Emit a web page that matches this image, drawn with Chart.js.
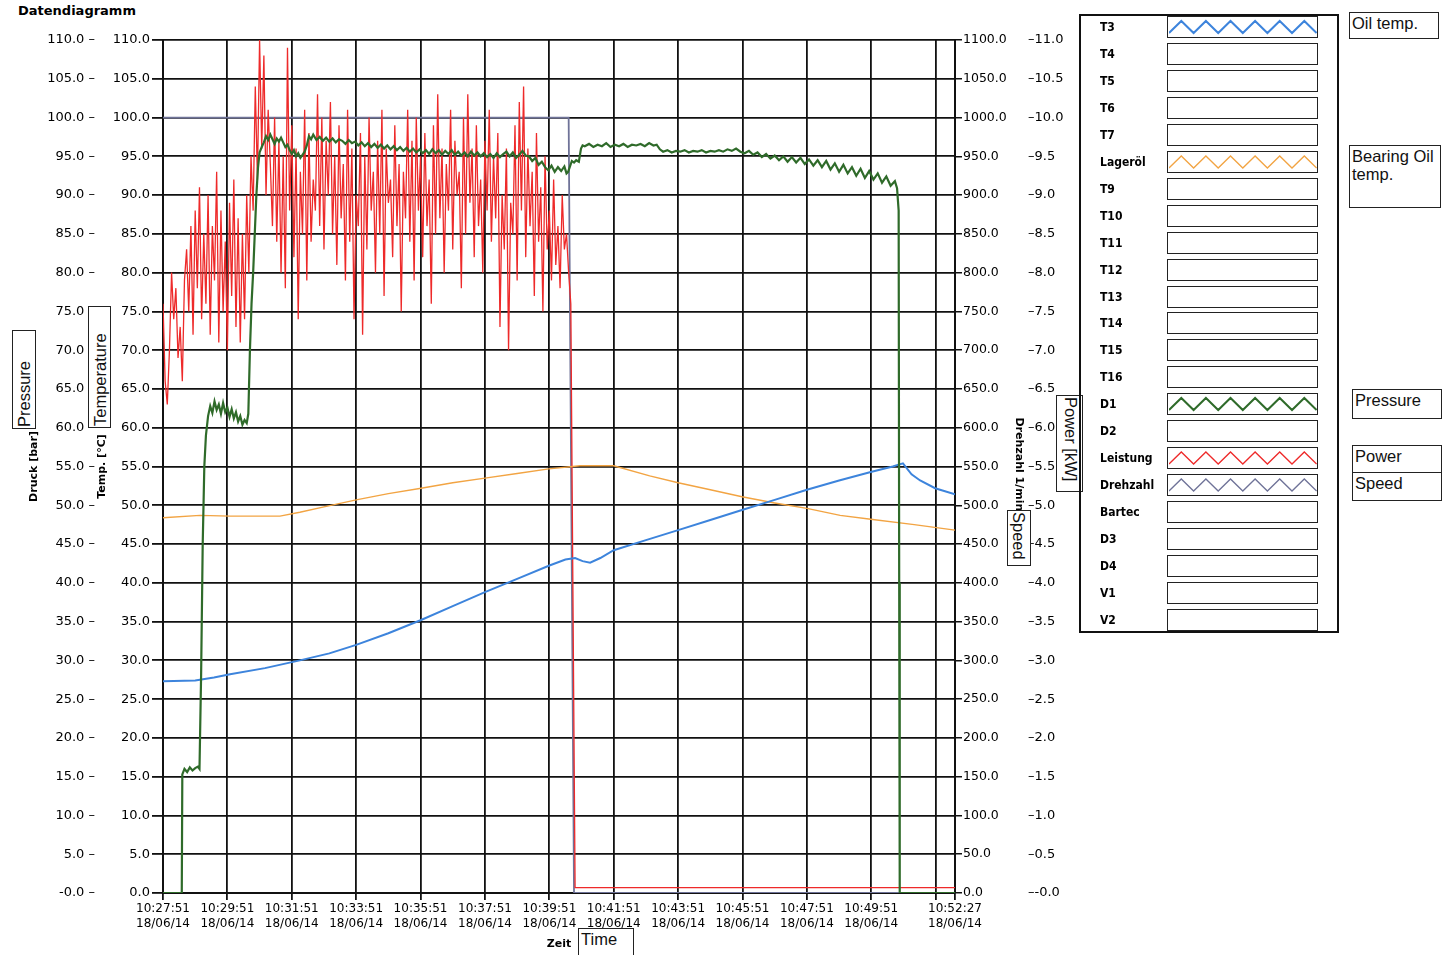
<!DOCTYPE html>
<html lang="de">
<head>
<meta charset="utf-8">
<title>Datendiagramm</title>
<script src="https://cdn.jsdelivr.net/npm/chart.js@4.4.1/dist/chart.umd.min.js"></script>
<style>
  html, body { margin: 0; padding: 0; background: #fff; }
  body { position: relative; width: 1450px; height: 955px; overflow: hidden; font-family: "DejaVu Sans", sans-serif; color: #000; }
  #chartBox { position: absolute; left: 0; top: 0; width: 1090px; height: 955px; }
  #heading { position: absolute; left: 18px; top: 3px; font: bold 13px "DejaVu Sans", sans-serif; }
  .note { position: absolute; box-sizing: border-box; border: 1.5px solid #222; background: #fff;
          font: 16.5px "Liberation Sans", Arial, sans-serif; line-height: 1.1; padding: 1px 2px; color: #111; }
  .up { writing-mode: vertical-rl; transform: rotate(180deg); }
  .down { writing-mode: vertical-rl; }
  #legendPanel { position: absolute; left: 1079px; top: 14px; width: 260px; height: 619px; box-sizing: border-box; border: 2px solid #111; }
  .lgRow { position: absolute; left: 0; width: 100%; height: 24px; }
  .lgName { position: absolute; left: 19px; top: 4px; font: bold 12px "DejaVu Sans Condensed", "DejaVu Sans", sans-serif; }
  .lgSwatch { position: absolute; left: 86px; top: 0; width: 151px; height: 22px; box-sizing: border-box; border: 1.5px solid #222; }
  .lgSwatch svg { position: absolute; left: 1px; top: 0; }
</style>
</head>
<body>
<div id="heading">Datendiagramm</div>
<div id="chartBox"><canvas id="chart" width="1090" height="955"></canvas></div>

<!-- hand-written notes on the print -->
<div class="note up" style="left:12px;top:330px;width:24px;height:99px;">Pressure</div>
<div class="note up" style="left:88px;top:306px;width:23px;height:122px;">Temperature</div>
<div class="note down" style="left:1056px;top:395px;width:27px;height:97px;">Power [kW]</div>
<div class="note down" style="left:1007px;top:510px;width:24px;height:56px;">Speed</div>
<div class="note" style="left:578px;top:928px;width:56px;height:32px;">Time</div>
<div class="note" style="left:1349px;top:12px;width:90px;height:27px;">Oil temp.</div>
<div class="note" style="left:1349px;top:145px;width:92px;height:63px;">Bearing Oil<br>temp.</div>
<div class="note" style="left:1352px;top:389px;width:90px;height:30px;">Pressure</div>
<div class="note" style="left:1352px;top:445px;width:90px;height:56px;padding:0;">
  <div style="height:27px;border-bottom:1.5px solid #222;padding:1px 2px;box-sizing:border-box;">Power</div>
  <div style="padding:1px 2px;">Speed</div>
</div>

<div id="legendPanel"></div>

<script>
// --- time axis (seconds after 10:27:51) ---
const timeTickSec = [0, 120, 240, 360, 480, 600, 720, 840, 960, 1080, 1200, 1320, 1440, 1476];
const timeTickClock = ['10:27:51', '10:29:51', '10:31:51', '10:33:51', '10:35:51', '10:37:51', '10:39:51',
                       '10:41:51', '10:43:51', '10:45:51', '10:47:51', '10:49:51', '', '10:52:27'];
const timeTickDate = '18/06/14';

// --- Leistung [kW], sampled every 4 s, then off ---
const powerStepSec = 4;
const powerKw = [
  7.6, 6.6, 6.3, 7.0, 8.0, 7.4, 7.8, 6.9, 7.3, 6.6, 7.9, 8.3, 7.5, 8.6, 7.2, 8.8, 7.8, 9.1, 7.4, 8.5,
  7.6, 9.0, 7.2, 8.6, 7.9, 9.3, 7.1, 8.8, 7.5, 8.4, 7.0, 8.9, 7.7, 9.2, 7.3, 8.7, 7.1, 8.5, 7.4, 9.0, 8.0,
  9.5, 8.8, 10.4, 9.2, 11.0, 9.6, 10.8, 9.0, 10.1, 9.4,
  8.6, 10.0, 8.4, 9.7, 8.0, 9.5, 7.8, 10.9, 8.8, 9.9,
  8.2, 9.6, 7.4, 9.3, 8.5, 10.1, 7.9, 9.8, 8.4, 9.2,
  8.8, 10.3, 8.6, 10.0, 8.3, 9.7, 9.0, 10.2, 8.5, 9.5,
  8.1, 9.9, 8.7, 9.4, 7.9, 10.1, 8.4, 9.6, 7.4, 9.0,
  8.6, 9.8, 7.2, 9.5, 8.3, 10.0, 8.8, 9.3, 8.0, 9.7,
  8.5, 10.1, 7.7, 9.6, 8.9, 9.2, 8.2, 9.9, 8.6, 9.4,
  7.5, 9.3, 8.7, 10.1, 8.4, 9.7, 7.9, 10.0, 8.8, 9.5,
  8.2, 9.8, 8.6, 9.2, 7.6, 9.9, 8.5, 10.3, 8.7, 9.6,
  8.0, 9.4, 8.8, 10.1, 8.3, 9.7, 9.0, 9.3, 7.8, 10.0,
  8.5, 10.3, 8.9, 9.6, 8.2, 9.9, 8.6, 9.2, 8.0, 9.7,
  8.8, 10.1, 8.4, 9.5, 8.7, 9.8, 7.3, 9.0, 8.3, 9.6,
  7.0, 8.9, 8.5, 9.9, 7.9, 10.2, 8.8, 10.4, 8.2, 9.6,
  8.6, 9.3, 7.7, 9.8, 8.4, 9.1, 7.5, 9.5, 8.3, 8.8,
  7.9, 9.2, 8.1, 8.6, 7.8, 9.0, 8.3, 8.5, 8.0, 7.6
];
const powerTail = [[768, 0.07], [1476, 0.07]];

// --- Drehzahl [1/min] ---
const speedRpm = [[0, 1000], [756, 1000], [766, 0], [1476, 0]];

// --- D1 Druck [bar] ---
const pressureD1 = [
  [0, 0], [35, 0], [36, 15.3], [40, 16.0], [45, 15.6], [50, 16.2], [55, 15.8], [60, 16.1], [65, 16.3], [68, 16.0],
  [71, 28], [74, 45], [77, 55], [80, 59], [84, 61.5], [88, 62.8], [92, 61.9], [96, 63.4], [100, 62.3], [104, 63.0],
  [108, 61.8], [112, 63.2], [116, 62.0], [120, 62.6], [124, 61.4], [128, 62.4], [132, 61.2], [136, 62.0], [140, 60.8],
  [144, 61.5], [148, 60.4], [152, 61.0], [156, 60.6], [159, 61.8],
  [162, 70], [165, 76], [168, 80], [171, 85], [174, 90], [177, 93.5], [180, 95.5], [184, 96.2],
  [188, 96.8], [192, 97.6], [196, 97.1], [200, 97.8], [204, 97.2], [208, 96.6], [212, 97.3], [216, 96.9], [220, 97.4],
  [224, 96.8], [228, 96.2], [232, 96.5], [236, 95.8], [240, 95.3], [244, 95.8], [248, 95.0], [252, 95.4], [256, 94.8],
  [260, 95.2], [264, 95.6], [268, 96.4], [272, 97.6], [276, 97.2], [280, 97.8], [286, 97.1], [292, 97.5], [298, 97.0],
  [304, 97.4], [310, 96.9], [316, 97.3], [322, 96.8], [328, 97.2], [334, 97.0], [340, 96.6], [346, 97.1], [352, 96.7],
  [358, 96.9], [364, 96.4], [370, 96.8], [376, 96.3], [382, 96.7], [388, 96.2], [394, 96.6], [400, 96.1], [406, 96.5],
  [412, 96.0], [418, 96.4], [424, 95.9], [430, 96.3], [436, 95.8], [442, 96.2], [448, 95.7], [454, 96.1], [460, 95.6],
  [466, 96.0], [472, 95.5], [478, 95.9], [484, 95.4], [490, 95.8], [496, 95.3], [502, 95.9], [508, 95.4], [514, 95.8],
  [520, 95.2], [526, 95.7], [532, 95.3], [538, 95.8], [544, 95.2], [550, 95.6], [556, 95.1], [562, 95.5], [568, 95.0],
  [574, 95.6], [580, 95.1], [586, 95.5], [592, 95.0], [598, 95.4], [604, 94.9], [610, 95.3], [616, 94.8], [622, 95.4],
  [628, 94.9], [634, 95.3], [640, 95.6], [646, 95.0], [652, 95.5], [658, 94.8], [664, 95.2], [670, 95.7], [676, 95.1],
  [682, 95.0], [688, 94.4], [694, 94.8], [700, 93.9], [706, 94.3], [712, 93.6], [718, 93.2], [724, 93.8], [730, 93.0],
  [736, 93.6], [742, 93.1], [748, 93.7], [752, 92.8], [755, 93.0],
  [758, 93.6], [762, 94.4], [766, 94.2], [770, 94.5], [775, 94.3], [779, 96.0], [782, 96.4],
  [786, 96.3], [794, 96.6], [802, 96.2], [810, 96.5], [818, 96.3], [826, 96.7], [834, 96.2], [842, 96.5], [850, 96.3],
  [858, 96.6], [866, 96.2], [874, 96.5], [882, 96.4], [890, 96.6], [898, 96.3], [906, 96.7], [914, 96.4], [920, 96.5],
  [926, 95.9], [932, 95.6], [940, 95.8], [948, 95.5], [956, 95.7], [964, 95.6], [972, 95.8], [980, 95.5], [988, 95.7],
  [996, 95.6], [1004, 95.8], [1012, 95.5], [1020, 95.7], [1028, 95.6], [1036, 95.8], [1044, 95.6], [1052, 95.9],
  [1060, 95.7], [1068, 96.0], [1076, 95.6], [1084, 95.4], [1092, 95.7], [1100, 95.2], [1108, 95.5], [1116, 94.9],
  [1124, 95.3], [1132, 94.7], [1140, 95.1], [1148, 94.5], [1156, 95.0], [1164, 94.3], [1172, 94.9], [1180, 94.2],
  [1188, 94.8], [1196, 94.0], [1204, 94.6], [1212, 93.8], [1220, 94.5], [1228, 93.6], [1236, 94.4], [1244, 93.3],
  [1252, 94.1], [1260, 93.0], [1268, 93.9], [1276, 92.8], [1284, 93.6], [1292, 92.5], [1300, 93.4], [1308, 92.2],
  [1316, 93.1], [1324, 92.0], [1332, 92.8], [1340, 91.6], [1348, 92.4], [1356, 91.2], [1364, 91.8], [1368, 90.9],
  [1371, 88.0], [1372, 40.0], [1373, 0], [1476, 0]
];

// --- T3 oil temperature [°C] ---
const oilT3 = [
  [0, 27.3], [60, 27.4], [95, 27.8], [125, 28.2], [190, 29.0], [255, 30.0], [310, 30.9], [360, 32.0], [420, 33.5],
  [481, 35.2], [540, 37.0], [600, 38.8], [660, 40.5], [719, 42.2], [750, 43.0], [768, 43.2], [782, 42.8], [796, 42.6],
  [815, 43.2], [840, 44.2], [900, 45.5], [960, 46.8], [1020, 48.1], [1079, 49.4], [1140, 50.7], [1200, 52.0],
  [1260, 53.2], [1319, 54.3], [1360, 55.0], [1379, 55.4], [1395, 54.0], [1411, 53.2], [1439, 52.2], [1476, 51.4]
];

// --- Lageröl bearing oil temperature [°C] ---
const bearingOil = [
  [0, 48.4], [69, 48.7], [125, 48.6], [218, 48.6], [255, 49.1], [300, 49.8], [360, 50.7], [420, 51.5], [481, 52.2],
  [540, 52.9], [600, 53.5], [660, 54.1], [719, 54.7], [777, 55.1], [840, 55.1], [907, 53.8], [960, 52.9], [1020, 52.0],
  [1079, 51.1], [1140, 50.3], [1200, 49.6], [1262, 48.7], [1319, 48.2], [1400, 47.5], [1476, 46.8]
];

// --- channel list on the right ---
const legendNames = ['T3', 'T4', 'T5', 'T6', 'T7', 'Lageröl', 'T9', 'T10', 'T11', 'T12', 'T13', 'T14', 'T15', 'T16',
                     'D1', 'D2', 'Leistung', 'Drehzahl', 'Bartec', 'D3', 'D4', 'V1', 'V2'];
const channelColors = { T3: '#3d84dc', 'Lageröl': '#f2a443', D1: '#2f6b2a', Leistung: '#ee2a2a', Drehzahl: '#6f7398' };

const FONT = '"DejaVu Sans", sans-serif';
const toXY = arr => arr.map(p => ({ x: p[0], y: p[1] }));
const powerPoints = powerKw.map((v, i) => ({ x: i * powerStepSec, y: v })).concat(toXY(powerTail));

// build the channel list
const panel = document.getElementById('legendPanel');
legendNames.forEach((name, i) => {
    const row = document.createElement('div');
    row.className = 'lgRow';
    row.style.top = (i * 26.95) + 'px';
    let zig = '';
    const col = channelColors[name];
    if (col) {
        const pts = [];
        for (let k = 0; k <= 12; k++) pts.push((k * 12.3).toFixed(1) + ',' + (k % 2 ? 4 : 16));
        zig = `<svg width="148" height="20"><polyline points="${pts.join(' ')}" fill="none" stroke="${col}" stroke-width="${name === 'T3' || name === 'D1' ? 2 : 1.3}"/></svg>`;
    }
    row.innerHTML = `<span class="lgName">${name}</span><div class="lgSwatch">${zig}</div>`;
    panel.appendChild(row);
});

const tickFont = { family: FONT, size: 13 };
const titleFont = { family: FONT, size: 11, weight: 'bold' };

new Chart(document.getElementById('chart'), {
    type: 'line',
    data: {
        datasets: [
            { label: 'D1', data: toXY(pressureD1), yAxisID: 'druck', borderColor: channelColors.D1, borderWidth: 2.2 },
            { label: 'T3', data: toXY(oilT3), yAxisID: 'temp', borderColor: channelColors.T3, borderWidth: 2 },
            { label: 'Lageröl', data: toXY(bearingOil), yAxisID: 'temp', borderColor: channelColors['Lageröl'], borderWidth: 1.4 },
            { label: 'Leistung', data: powerPoints, yAxisID: 'power', borderColor: channelColors.Leistung, borderWidth: 1.3 },
            { label: 'Drehzahl', data: toXY(speedRpm), yAxisID: 'speed', borderColor: channelColors.Drehzahl, borderWidth: 1.8 }
        ]
    },
    options: {
        responsive: false,
        animation: false,
        parsing: false,
        normalized: true,
        elements: { point: { radius: 0 }, line: { tension: 0 } },
        layout: { padding: { top: 40, left: 0, right: 0, bottom: 0 } },
        plugins: { legend: { display: false }, tooltip: { enabled: false } },
        scales: {
            x: {
                type: 'linear', min: 0, max: 1476, position: 'bottom',
                afterBuildTicks: s => { s.ticks = timeTickSec.map(v => ({ value: v })); },
                afterFit: s => { s.height = 62; },
                ticks: {
                    autoSkip: false, maxRotation: 0, padding: 2, color: '#000',
                    font: { family: FONT, size: 12 },
                    callback: (v, i) => timeTickClock[i] ? [timeTickClock[i], timeTickDate] : ''
                },
                grid: { color: '#111', lineWidth: 1.8, tickLength: 7 },
                border: { color: '#111', width: 2 },
                title: { display: true, text: 'Zeit', color: '#000', font: titleFont, padding: { top: 0, bottom: 4 } }
            },
            druck: {
                type: 'linear', position: 'left', weight: 2, min: 0, max: 110,
                afterFit: s => { s.width = 96; },
                ticks: { stepSize: 5, autoSkip: false, padding: 1, color: '#000', font: tickFont,
                         callback: v => (v === 0 ? '-0.0' : v.toFixed(1)) + ' –' },
                grid: { display: false, drawTicks: false },
                border: { display: false },
                title: { display: true, text: 'Druck [bar]', color: '#000', font: titleFont, padding: { top: 28, bottom: 0 } }
            },
            temp: {
                type: 'linear', position: 'left', weight: 1, min: 0, max: 110,
                afterFit: s => { s.width = 67; },
                ticks: { stepSize: 5, autoSkip: false, padding: 2, color: '#000', font: tickFont,
                         callback: v => v.toFixed(1) },
                grid: { color: '#111', lineWidth: 1.8, tickLength: 11 },
                border: { color: '#111', width: 2 },
                title: { display: true, text: 'Temp. [°C]', color: '#000', font: titleFont, padding: { top: 0, bottom: 0 } }
            },
            speed: {
                type: 'linear', position: 'right', weight: 0, min: 0, max: 1100,
                afterFit: s => { s.width = 70; },
                ticks: { stepSize: 50, autoSkip: false, padding: 1, color: '#000', font: { family: FONT, size: 12.5 },
                         callback: v => v.toFixed(1) },
                grid: { drawOnChartArea: false, color: '#111', lineWidth: 1.5, tickLength: 7 },
                border: { color: '#111', width: 2 },
                title: { display: true, text: 'Drehzahl 1/min.', color: '#000', font: titleFont, padding: { top: 0, bottom: 0 } }
            },
            power: {
                type: 'linear', position: 'right', weight: 1, min: 0, max: 11,
                afterFit: s => { s.width = 65; },
                ticks: { stepSize: 0.5, autoSkip: false, padding: 3, color: '#000', font: tickFont,
                         callback: v => '–' + (v === 0 ? '-0.0' : v.toFixed(1)) },
                grid: { display: false, drawTicks: false },
                border: { display: false }
            }
        }
    }
});
</script>
</body>
</html>
